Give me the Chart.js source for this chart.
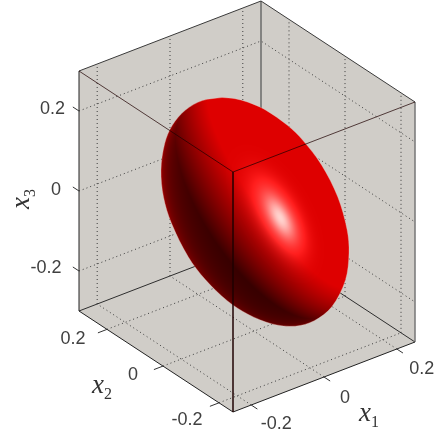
<!DOCTYPE html>
<html>
<head>
<meta charset="utf-8">
<style>
  html, body { margin: 0; padding: 0; background: #fff; }
  canvas { display: block; }
</style>
<script src="https://cdn.jsdelivr.net/npm/chart.js@4"></script>
</head>
<body>
<canvas id="chart" width="439" height="437"></canvas>
<script>
// axis limits and ticks
const x1Limits = [-0.25, 0.25];
const x2Limits = [-0.25, 0.30];
const x3Limits = [-0.3, 0.3];
const tickValues = [-0.2, 0, 0.2];
const tickLabels = ['-0.2', '0', '0.2'];

// silhouette of the ellipsoid (screen units)
const outlineX = [222.1, 235, 248, 265, 287.8, 302.8, 321.7, 337.8, 347.1, 349, 345.4, 331.8, 314.3, 295.1, 272.1, 247.9, 227.2, 205.3, 188.2, 171.4, 163.5, 161, 164.7, 172.3, 185.2, 202.3, 222.1];
const outlineY = [97.5, 98.7, 102.2, 109.7, 125.6, 140.3, 165.2, 197, 229.8, 253, 280.3, 306.8, 320.7, 326.2, 323.9, 314.2, 300.7, 279.6, 256.8, 223.1, 197.1, 170, 143.5, 125.3, 110.3, 100.6, 97.5];

// view of the box: where the corners land on screen
function project(x1, x2, x3) {
  const a = (x1 - x1Limits[0]) / (x1Limits[1] - x1Limits[0]);
  const b = (x2 - x2Limits[0]) / (x2Limits[1] - x2Limits[0]);
  const c = (x3 - x3Limits[0]) / (x3Limits[1] - x3Limits[0]);
  return {x: 233 + a * 182 - b * 154, y: 412 - a * 70 - b * 101 - c * 240};
}

const [x1a, x1b] = x1Limits;
const [x2a, x2b] = x2Limits;
const [x3a, x3b] = x3Limits;

function polyline(points, style, order) {
  return Object.assign({
    data: points,
    showLine: true,
    pointRadius: 0,
    tension: 0,
    fill: false,
    order: order
  }, style);
}

// lit ellipsoid, used as the fill pattern of the silhouette
function makeShade() {
  const off = document.createElement('canvas');
  off.width = 439;
  off.height = 437;
  const g = off.getContext('2d');
  const img = g.createImageData(439, 437);

  const cx = 255, cy = 212, a3 = 85;
  const sxx = 94 * 94, syy = 114.5 * 114.5, sxy = 3800;
  const det = sxx * syy - sxy * sxy;
  const qxx = syy / det, qyy = sxx / det, qxy = -sxy / det;

  const norm = v => { const m = Math.hypot(...v); return v.map(c => c / m); };
  const dot = (a, b) => a[0] * b[0] + a[1] * b[1] + a[2] * b[2];
  const L1 = norm([0.58, -0.5, 0.61]);
  const L2 = norm([-0.9, -0.1, -0.2]);
  const H = norm([0.256, -0.04, 0.966]);

  for (let py = 80; py < 340; py++) {
    for (let px = 150; px < 360; px++) {
      const dx = px - cx, dy = py - cy;
      const f = Math.min(0.995, dx * dx * qxx + 2 * dx * dy * qxy + dy * dy * qyy);
      const z = Math.sqrt(1 - f) / a3;
      const n = norm([qxx * dx + qxy * dy, qxy * dx + qyy * dy, z]);
      const d1 = Math.max(0, dot(n, L1));
      const d2 = Math.max(0, dot(n, L2));
      const nh = Math.max(0, dot(n, H));
      const rim = Math.pow(1 - n[2], 2);
      const spec = Math.pow(nh, 140) * 0.5 + Math.pow(nh, 40) * 0.42;
      const red = 255 * (0.2 + 1.0 * d1 + 0.15 * d2 * d2 + 0.3 * rim);
      const i = (py * 439 + px) * 4;
      img.data[i] = Math.min(255, Math.min(222, red) + 255 * spec);
      img.data[i + 1] = 230 * spec;
      img.data[i + 2] = 225 * spec;
      img.data[i + 3] = 255;
    }
  }
  g.putImageData(img, 0, 0);
  return g.createPattern(off, 'no-repeat');
}

const dotted = {borderColor: '#3c3c3c', borderWidth: 1, borderDash: [1, 3]};
const datasets = [];

// gray walls and floor
datasets.push(polyline(
  [project(x1a, x2b, x3b), project(x1b, x2b, x3b), project(x1b, x2a, x3b), project(x1b, x2a, x3a),
   project(x1a, x2a, x3a), project(x1a, x2b, x3a), project(x1a, x2b, x3b)],
  {backgroundColor: '#d0cdc8', borderWidth: 0, fill: 'shape'}, 9));

// grid on the back walls and floor
for (const t of tickValues) {
  datasets.push(polyline([project(t, x2b, x3a), project(t, x2b, x3b)], dotted, 8));
  datasets.push(polyline([project(x1b, t, x3a), project(x1b, t, x3b)], dotted, 8));
  datasets.push(polyline([project(x1a, x2b, t), project(x1b, x2b, t), project(x1b, x2a, t)], dotted, 8));
  datasets.push(polyline([project(t, x2a, x3a), project(t, x2b, x3a)], dotted, 8));
  datasets.push(polyline([project(x1a, t, x3a), project(x1b, t, x3a)], dotted, 8));
}

// edges hidden partly by the ellipsoid
const backEdge = {borderColor: '#2e2e2e', borderWidth: 1};
datasets.push(polyline([project(x1b, x2b, x3a), project(x1b, x2b, x3b)], {borderColor: '#6a6a6a', borderWidth: 1.5}, 7));
datasets.push(polyline([project(x1a, x2b, x3a), project(x1b, x2b, x3a), project(x1b, x2a, x3a)], backEdge, 7));

// ellipsoid
datasets.push(polyline(outlineX.map((x, i) => ({x: x, y: outlineY[i]})),
  {backgroundColor: makeShade(), borderColor: 'rgba(240,190,180,0.35)', borderWidth: 1, fill: 'shape', tension: 0.33}, 5));

// outer hull and front edges, on top of the ellipsoid
const hull = {borderColor: '#3a3a3a', borderWidth: 1};
datasets.push(polyline([project(x1a, x2a, x3a), project(x1a, x2b, x3a), project(x1a, x2b, x3b)], {borderColor: '#222', borderWidth: 1}, 3));
datasets.push(polyline([project(x1a, x2a, x3a), project(x1b, x2a, x3a)], {borderColor: '#222', borderWidth: 1}, 3));
datasets.push(polyline([project(x1a, x2b, x3b), project(x1b, x2b, x3b), project(x1b, x2a, x3b)], hull, 3));
datasets.push(polyline([project(x1b, x2a, x3b), project(x1b, x2a, x3a)], {borderColor: '#777', borderWidth: 1.5}, 3));
const frontEdge = {borderColor: 'rgba(30,0,0,0.72)', borderWidth: 1};
datasets.push(polyline([project(x1a, x2b, x3b), project(x1a, x2a, x3b), project(x1b, x2a, x3b)], frontEdge, 2));
datasets.push(polyline([project(x1a, x2a, x3b), project(x1a, x2a, x3a)], frontEdge, 2));

// tick marks
const tickStyle = {borderColor: '#333', borderWidth: 1};
for (const t of tickValues) {
  datasets.push(polyline([project(t, x2a, x3a), project(t, x2a - 0.022, x3a)], tickStyle, 1));
  datasets.push(polyline([project(x1a, t, x3a), project(x1a - 0.025, t, x3a)], tickStyle, 1));
  datasets.push(polyline([project(x1a, x2b, t), project(x1a, x2b + 0.022, t)], tickStyle, 1));
}

// label offsets from the tick they belong to, order as tickValues
const x1Offsets = [[25, 19], [21, 21], [25, 20]];
const x2Offsets = [[-32, 17], [-30, 9], [-34, 10]];
const x3Offsets = [[-33, -3], [-23, -1], [-26.5, -2]];

const labelPlugin = {
  id: 'labels',
  afterDraw(chart) {
    const {ctx, scales} = chart;
    const toPx = p => ({x: scales.x.getPixelForValue(p.x), y: scales.y.getPixelForValue(p.y)});
    ctx.save();
    ctx.fillStyle = '#404040';
    ctx.font = '18px "Liberation Sans"';
    ctx.textAlign = 'center';
    ctx.textBaseline = 'middle';
    tickValues.forEach((t, i) => {
      const a = toPx(project(t, x2a, x3a));
      ctx.fillText(tickLabels[i], a.x + x1Offsets[i][0], a.y + x1Offsets[i][1]);
      const b = toPx(project(x1a, t, x3a));
      ctx.fillText(tickLabels[i], b.x + x2Offsets[i][0], b.y + x2Offsets[i][1]);
      const c = toPx(project(x1a, x2b, t));
      ctx.fillText(tickLabels[i], c.x + x3Offsets[i][0], c.y + x3Offsets[i][1]);
    });

    const axisLabel = (x, y, rot, sub) => {
      ctx.save();
      ctx.translate(x, y);
      ctx.rotate(rot);
      ctx.textAlign = 'left';
      ctx.textBaseline = 'alphabetic';
      ctx.font = 'italic 27px "Liberation Serif"';
      ctx.fillText('x', 0, 0);
      ctx.font = '16px "Liberation Serif"';
      ctx.fillText(sub, 12, 6);
      ctx.restore();
    };
    ctx.fillStyle = '#333';
    axisLabel(359, 421, 0, '1');
    axisLabel(92, 393, 0, '2');
    axisLabel(29, 209, -Math.PI / 2, '3');
    ctx.restore();
  }
};

new Chart(document.getElementById('chart'), {
  type: 'scatter',
  data: {datasets: datasets},
  options: {
    responsive: false,
    animation: false,
    layout: {padding: 0},
    plugins: {legend: {display: false}, tooltip: {enabled: false}},
    scales: {
      x: {type: 'linear', min: 0, max: 439, display: false},
      y: {type: 'linear', min: 0, max: 437, reverse: true, display: false}
    }
  },
  plugins: [labelPlugin]
});
</script>
</body>
</html>
